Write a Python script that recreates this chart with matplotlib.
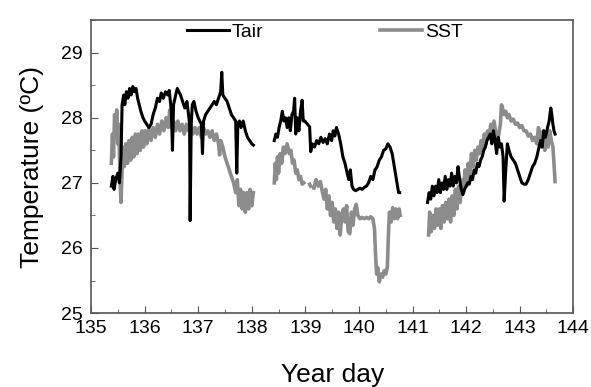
import numpy as np
import matplotlib
matplotlib.use('Agg')
import matplotlib.pyplot as plt
from matplotlib.ticker import MultipleLocator

plt.rcParams['font.family'] = ['Liberation Sans', 'DejaVu Sans']

nan = np.nan

# Tair (black) - three measurement legs, separated by nan
tair_day = [
    135.38, 135.41, 135.43, 135.46, 135.50, 135.53, 135.56, 135.58, 135.61, 135.63,
    135.66, 135.69, 135.72, 135.75, 135.78, 135.81, 135.84, 135.87, 135.90, 135.93,
    135.97, 136.00, 136.04, 136.08, 136.12, 136.16, 136.20, 136.24, 136.28, 136.31,
    136.35, 136.39, 136.43, 136.46, 136.50, 136.52, 136.54, 136.58, 136.61, 136.64,
    136.67, 136.71, 136.75, 136.79, 136.82, 136.84, 136.85, 136.87, 136.89, 136.92,
    136.96, 137.00, 137.03, 137.06, 137.08, 137.10, 137.14, 137.18, 137.22, 137.26,
    137.30, 137.34, 137.38, 137.42, 137.44, 137.46, 137.50, 137.54, 137.58, 137.62,
    137.66, 137.70, 137.72, 137.74, 137.77, 137.80, 137.84, 137.88, 137.92, 137.96,
    138.00, 138.03, 138.2,
    138.42, 138.45, 138.48, 138.51, 138.54, 138.57, 138.60, 138.63, 138.66, 138.69,
    138.72, 138.75, 138.78, 138.80, 138.82, 138.85, 138.88, 138.91, 138.94, 138.96,
    138.99, 139.08, 139.10, 139.13, 139.17, 139.21, 139.25, 139.29, 139.33, 139.37,
    139.41, 139.45, 139.49, 139.52, 139.55, 139.58, 139.62, 139.66, 139.70, 139.74,
    139.78, 139.81, 139.84, 139.87, 139.90, 139.94, 139.98, 140.02, 140.06, 140.10,
    140.14, 140.18, 140.22, 140.26, 140.30, 140.34, 140.38, 140.42, 140.46, 140.50,
    140.54, 140.58, 140.62, 140.66, 140.70, 140.74, 140.76, 141.0,
    141.28, 141.31, 141.34, 141.37, 141.40, 141.43, 141.46, 141.49, 141.52, 141.55,
    141.58, 141.61, 141.64, 141.67, 141.70, 141.73, 141.76, 141.79, 141.82, 141.85,
    141.88, 141.91, 141.94, 141.97, 142.00, 142.03, 142.06, 142.09, 142.12, 142.15,
    142.18, 142.21, 142.24, 142.27, 142.30, 142.33, 142.36, 142.39, 142.42, 142.45,
    142.48, 142.51, 142.54, 142.57, 142.60, 142.63, 142.66, 142.69, 142.71, 142.74,
    142.77, 142.80, 142.84, 142.88, 142.92, 142.96, 143.00, 143.04, 143.08, 143.12,
    143.16, 143.20, 143.24, 143.28, 143.32, 143.36, 143.39, 143.42, 143.45, 143.48,
    143.52, 143.55, 143.58, 143.60, 143.62, 143.64, 143.66,
]
tair = [
    26.95, 27.10, 26.90, 27.05, 27.15, 27.00, 27.40, 28.20, 28.35, 28.20,
    28.40, 28.30, 28.45, 28.35, 28.48, 28.40, 28.45, 28.30, 28.20, 28.10,
    28.00, 27.95, 27.90, 27.85, 27.90, 28.05, 28.15, 28.30, 28.25, 28.38,
    28.30, 28.40, 28.35, 28.42, 28.10, 27.50, 28.20, 28.35, 28.45, 28.40,
    28.35, 28.25, 28.15, 28.25, 28.05, 27.90, 26.42, 27.90, 28.20, 28.25,
    28.10, 28.00, 27.95, 27.90, 27.45, 27.95, 28.05, 28.10, 28.15, 28.20,
    28.25, 28.20, 28.30, 28.40, 28.70, 28.35, 28.30, 28.25, 28.15, 28.05,
    28.00, 27.95, 27.15, 27.90, 27.95, 27.85, 27.95, 27.80, 27.70, 27.65,
    27.60, 27.58, nan,
    27.65, 27.75, 27.70, 27.85, 27.95, 28.10, 27.95, 28.00, 27.85, 28.00,
    27.80, 28.05, 28.10, 28.30, 27.75, 28.00, 27.80, 28.10, 28.27, 27.95,
    27.95, 27.86, 27.48, 27.60, 27.55, 27.65, 27.60, 27.70, 27.62, 27.68,
    27.60, 27.75, 27.65, 27.80, 27.72, 27.85, 27.75, 27.60, 27.40, 27.30,
    27.15, 27.05, 27.20, 26.95, 26.90, 26.88, 26.90, 26.92, 26.90, 26.93,
    26.95, 27.00, 27.10, 27.05, 27.20, 27.25, 27.35, 27.40, 27.50, 27.52,
    27.60, 27.55, 27.45, 27.25, 27.05, 26.85, 26.85, nan,
    26.70, 26.85, 26.75, 26.95, 26.80, 26.95, 26.85, 27.05, 26.85, 27.00,
    26.90, 27.10, 26.90, 27.05, 26.95, 27.15, 26.95, 27.10, 27.00, 27.25,
    27.05, 26.90, 26.82, 26.90, 26.95, 27.00, 26.98, 27.10, 27.05, 27.20,
    27.15, 27.30, 27.25, 27.35, 27.40, 27.50, 27.55, 27.65, 27.70, 27.75,
    27.60, 27.80, 27.65, 27.45, 27.70, 27.55, 27.60, 27.40, 26.72, 27.20,
    27.60, 27.50, 27.40, 27.35, 27.30, 27.20, 27.10, 27.00, 26.98, 26.98,
    27.05, 27.15, 27.25, 27.30, 27.40, 27.55, 27.65, 27.55, 27.80, 27.70,
    27.85, 27.95, 28.15, 28.05, 27.90, 27.80, 27.75,
]

# SST (grey)
sst_day = [
    135.38, 135.40, 135.42, 135.44, 135.46, 135.48, 135.50, 135.52, 135.54, 135.56,
    135.58, 135.60, 135.62, 135.65, 135.68, 135.71, 135.74, 135.77, 135.80, 135.83,
    135.86, 135.89, 135.92, 135.95, 135.98, 136.01, 136.04, 136.08, 136.12, 136.16,
    136.20, 136.24, 136.28, 136.32, 136.36, 136.40, 136.44, 136.47, 136.50, 136.54,
    136.58, 136.62, 136.66, 136.70, 136.74, 136.78, 136.82, 136.86, 136.90, 136.94,
    136.98, 137.02, 137.06, 137.10, 137.14, 137.18, 137.22, 137.26, 137.30, 137.34,
    137.38, 137.40, 137.42, 137.46, 137.50, 137.54, 137.58, 137.62, 137.66, 137.70,
    137.73, 137.76, 137.79, 137.82, 137.85, 137.88, 137.91, 137.94, 137.97, 138.00,
    138.03, 138.2,
    138.42, 138.44, 138.46, 138.48, 138.50, 138.53, 138.56, 138.59, 138.62, 138.66,
    138.70, 138.73, 138.76, 138.79, 138.82, 138.85, 138.88, 138.91, 138.94, 138.97,
    139.02, 139.08, 139.10, 139.13, 139.16, 139.20, 139.24, 139.28, 139.32, 139.35,
    139.38, 139.41, 139.44, 139.47, 139.50, 139.53, 139.56, 139.59, 139.62, 139.65,
    139.68, 139.71, 139.74, 139.77, 139.80, 139.83, 139.86, 139.89, 139.92, 139.95,
    139.98, 140.02, 140.06, 140.10, 140.14, 140.18, 140.22, 140.26, 140.29, 140.31,
    140.33, 140.35, 140.38, 140.41, 140.44, 140.47, 140.50, 140.53, 140.55, 140.57,
    140.60, 140.63, 140.66, 140.69, 140.72, 140.75, 140.77, 141.0,
    141.30, 141.32, 141.35, 141.38, 141.41, 141.44, 141.47, 141.50, 141.53, 141.56,
    141.59, 141.62, 141.65, 141.68, 141.71, 141.74, 141.77, 141.80, 141.83, 141.86,
    141.89, 141.92, 141.95, 141.98, 142.01, 142.04, 142.07, 142.10, 142.13, 142.16,
    142.19, 142.22, 142.25, 142.28, 142.31, 142.34, 142.37, 142.40, 142.43, 142.46,
    142.49, 142.52, 142.55, 142.58, 142.61, 142.64, 142.66, 142.68, 142.71, 142.74,
    142.77, 142.80, 142.84, 142.88, 142.92, 142.96, 143.00, 143.04, 143.08, 143.12,
    143.16, 143.20, 143.24, 143.28, 143.32, 143.35, 143.38, 143.41, 143.44, 143.47,
    143.50, 143.53, 143.56, 143.59, 143.62, 143.64, 143.66,
]
sst = [
    27.30, 27.75, 27.40, 28.05, 27.70, 28.12, 27.60, 27.90, 27.10, 26.70,
    27.20, 27.55, 27.25, 27.60, 27.30, 27.65, 27.35, 27.70, 27.40, 27.75,
    27.45, 27.75, 27.50, 27.80, 27.55, 27.80, 27.60, 27.85, 27.65, 27.85,
    27.70, 27.90, 27.75, 27.95, 27.80, 28.00, 27.85, 28.12, 27.85, 27.95,
    27.80, 27.95, 27.80, 27.90, 27.75, 27.90, 27.80, 27.90, 27.75, 27.85,
    27.75, 27.85, 27.70, 27.85, 27.75, 27.80, 27.70, 27.80, 27.65, 27.75,
    27.60, 27.43, 27.65, 27.55, 27.40, 27.30, 27.20, 27.10, 27.00, 26.85,
    27.05, 26.65, 26.90, 26.60, 26.85, 26.55, 26.85, 26.60, 26.90, 26.65,
    26.85, nan,
    27.00, 27.30, 27.05, 27.40, 27.15, 27.45, 27.30, 27.55, 27.45, 27.60,
    27.45, 27.50, 27.30, 27.35, 27.15, 27.20, 27.05, 27.10, 26.98, 27.00,
    nan, 26.98, 26.95, nan, 26.92, 27.05, 26.95, 27.02, 26.85, 26.75,
    26.90, 26.60, 26.80, 26.50, 26.70, 26.40, 26.60, 26.30, 26.55, 26.20,
    26.50, 26.60, 26.40, 26.65, 26.25, 26.22, 26.55, 26.35, 26.60, 26.67,
    26.50, 26.45, 26.47, 26.45, 26.47, 26.45, 26.48, 26.45, 26.30, 25.90,
    25.60, 25.70, 25.48, 25.60, 25.55, 25.65, 25.60, 25.70, 26.20, 26.55,
    26.40, 26.62, 26.45, 26.60, 26.45, 26.60, 26.50, nan,
    26.20, 26.55, 26.25, 26.50, 26.30, 26.60, 26.35, 26.60, 26.30, 26.65,
    26.40, 26.70, 26.45, 26.75, 26.40, 26.80, 26.50, 26.90, 26.60, 26.95,
    26.70, 27.05, 26.85, 27.20, 26.95, 27.30, 27.10, 27.45, 27.25, 27.50,
    27.35, 27.55, 27.45, 27.65, 27.50, 27.75, 27.60, 27.80, 27.70, 27.90,
    27.75, 27.95, 27.80, 27.65, 27.75, 27.90, 28.20, 28.15, 28.05, 28.10,
    28.00, 28.05, 27.95, 27.98, 27.90, 27.92, 27.85, 27.88, 27.80, 27.80,
    27.72, 27.75, 27.65, 27.70, 27.60, 27.85, 27.75, 27.55, 27.80, 27.50,
    27.75, 27.55, 27.80, 27.65, 27.55, 27.30, 27.02,
]

fig = plt.figure(figsize=(5.91, 3.87), dpi=100)
ax = fig.add_axes([0.154, 0.191, 0.816, 0.757])

ax.plot(sst_day, sst, color='#8c8c8c', lw=2.6, label='SST', zorder=2)
ax.plot(tair_day, tair, color='black', lw=2.2, label='Tair', zorder=3)

ax.set_xlim(135, 144)
ax.set_ylim(25, 29.5)
ax.xaxis.set_major_locator(MultipleLocator(1))
ax.xaxis.set_minor_locator(MultipleLocator(0.5))
ax.yaxis.set_major_locator(MultipleLocator(1))
ax.yaxis.set_minor_locator(MultipleLocator(0.5))
ax.tick_params(which='both', direction='in', labelsize=14, color='#555555')
ax.tick_params(which='major', length=5)
ax.tick_params(which='minor', length=3)
ax.tick_params(axis='x', pad=5)
ax.tick_params(axis='y', pad=6)
for s in ax.spines.values():
    s.set_color('#555555')
    s.set_linewidth(1.2)

ax.set_xlabel('Year day', fontsize=19, labelpad=19)
ax.set_ylabel('Temperature (ºC)', fontsize=19, labelpad=12)

h, l = ax.get_legend_handles_labels()
ax.legend(h[::-1], l[::-1], loc='upper center', bbox_to_anchor=(0.485, 1.05),
          ncol=2, frameon=False, fontsize=14, handlelength=2.15,
          columnspacing=6.0, handletextpad=0.15)

fig.savefig('out.png', dpi=100)
